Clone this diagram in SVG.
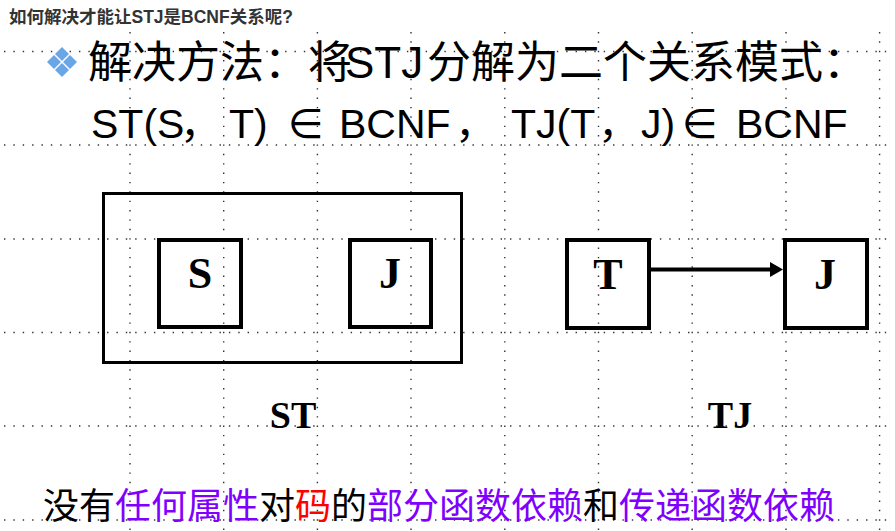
<svg xmlns="http://www.w3.org/2000/svg" width="895" height="531" viewBox="0 0 895 531">
<style>
.grid line{stroke:#333;stroke-width:1.4;stroke-dasharray:1.4 7.97}
.box{fill:none;stroke:#000;stroke-width:4}
.lbl{font-family:"Liberation Serif",serif;font-weight:bold;font-size:44px;text-anchor:middle;fill:#000}
.cap{font-family:"Liberation Serif",serif;font-weight:bold;font-size:38px;text-anchor:middle;fill:#000}
.big{font-family:"Liberation Sans","Noto Sans CJK SC",sans-serif;font-size:44px;fill:#000}
.mid{font-family:"Liberation Sans","DejaVu Sans","Noto Sans CJK SC",sans-serif;font-size:41px;fill:#000}
.cjk{font-family:"Noto Sans CJK SC",sans-serif}
.bot{font-family:"Noto Sans CJK SC",sans-serif;font-size:36px;fill:#000}
.p{fill:#8000ff}
.r{fill:#ff0000}
</style>
<defs>
<marker id="ah" markerUnits="userSpaceOnUse" markerWidth="14" markerHeight="16" refX="1" refY="7.5" orient="auto">
<path d="M0,0 L13,7.5 L0,15 Z" fill="#000"/>
</marker>
</defs>
<rect width="895" height="531" fill="#fff"/>
<g class="grid">
<line x1="130" y1="32" x2="130" y2="531"/>
<line x1="223.7" y1="32" x2="223.7" y2="531"/>
<line x1="317.4" y1="32" x2="317.4" y2="531"/>
<line x1="411" y1="32" x2="411" y2="531"/>
<line x1="504.8" y1="32" x2="504.8" y2="531"/>
<line x1="598.5" y1="32" x2="598.5" y2="531"/>
<line x1="692.2" y1="32" x2="692.2" y2="531"/>
<line x1="786" y1="32" x2="786" y2="531"/>
<line x1="879.6" y1="32" x2="879.6" y2="531"/>
<line x1="4" y1="51.5" x2="892" y2="51.5"/>
<line x1="4" y1="145" x2="892" y2="145"/>
<line x1="4" y1="239" x2="892" y2="239"/>
<line x1="4" y1="332.5" x2="892" y2="332.5"/>
<line x1="4" y1="426" x2="892" y2="426"/>
<line x1="4" y1="520" x2="892" y2="520"/>
</g>
<text x="9" y="23" font-family="Liberation Sans,Noto Sans CJK SC,sans-serif" font-weight="bold" font-size="17.5" fill="#333">如何解决才能让STJ是BCNF关系呢?</text>
<g id="bullet" fill="#6aa6e6">
<path d="M62,47 L69,54 L62,61 L55,54 Z"/>
<path d="M54,55 L61,62 L54,69 L47,62 Z"/>
<path d="M70,55 L77,62 L70,69 L63,62 Z"/>
<path d="M62,63 L69,70 L62,77 L55,70 Z"/>
</g>
<text class="big" y="78"><tspan x="88">解决方法：将</tspan><tspan x="345">STJ</tspan><tspan x="427">分解为二个关系模式：</tspan></text>
<text class="mid" y="138"><tspan x="91">ST(S</tspan><tspan x="180" class="cjk">，</tspan><tspan x="229">T)</tspan><tspan x="288">∈</tspan><tspan x="339">BCNF</tspan><tspan x="455" class="cjk">，</tspan><tspan x="511">TJ(T</tspan><tspan x="598" class="cjk">，</tspan><tspan x="641">J)</tspan><tspan x="682">∈</tspan><tspan x="736">BCNF</tspan></text>
<g id="ST">
<rect x="103.5" y="193.5" width="358" height="169" fill="none" stroke="#000" stroke-width="3"/>
<g id="S"><rect class="box" x="159" y="240" width="82" height="87"/><text class="lbl" x="200" y="288">S</text></g>
<g id="J1"><rect class="box" x="350" y="240" width="81" height="87"/><text class="lbl" x="390" y="288">J</text></g>
<text class="cap" x="293" y="428">ST</text>
</g>
<g id="T"><rect class="box" x="567" y="240" width="82" height="88"/><text class="lbl" x="608" y="289">T</text></g>
<g id="J2"><rect class="box" x="785" y="240" width="82" height="88"/><text class="lbl" x="825" y="289">J</text></g>
<text class="cap" x="730" y="428">TJ</text>
<g id="connectors">
<line x1="649" y1="269.5" x2="771" y2="269.5" stroke="#000" stroke-width="4" marker-end="url(#ah)"/>
</g>
<text class="bot" x="43" y="519">没有<tspan class="p">任何属性</tspan>对<tspan class="r">码</tspan>的<tspan class="p">部分函数依赖</tspan>和<tspan class="p">传递函数依赖</tspan></text>
</svg>
